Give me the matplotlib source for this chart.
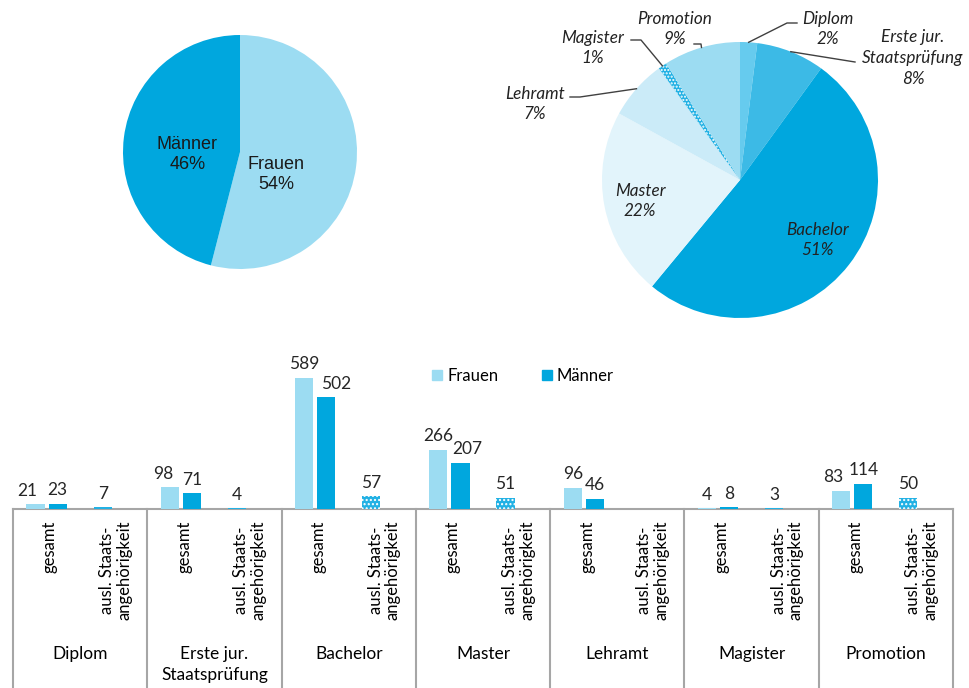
import numpy as np
import matplotlib.pyplot as plt
from matplotlib.patches import Patch

plt.rcParams['font.family'] = ['Lato', 'DejaVu Sans']

# data
degrees = ['Diplom', 'Erste jur.\nStaatsprüfung', 'Bachelor', 'Master', 'Lehramt', 'Magister', 'Promotion']
frauen_gesamt = [21, 98, 589, 266, 96, 4, 83]
maenner_gesamt = [23, 71, 502, 207, 46, 8, 114]
auslaender = [7, 4, 57, 51, None, 3, 50]
sub_labels = ['gesamt', 'ausl. Staats-\nangehörigkeit']

sex_labels = ['Frauen', 'Männer']
sex_pct = [54, 46]
deg_labels = ['Diplom', 'Erste jur.\nStaatsprüfung', 'Bachelor', 'Master', 'Lehramt', 'Magister', 'Promotion']
deg_pct = [2, 8, 51, 22, 7, 1, 9]

c_fr = '#9CDCF2'
c_ma = '#00A7DE'
c_ausl = '#22B1E4'
deg_colors = ['#66CBEE', '#3CBAE6', '#00A7DE', '#E2F4FB', '#CBEBF8', c_ausl, '#9CDCF2']

W, H = 969, 688
fig = plt.figure(figsize=(W / 100, H / 100), dpi=100)


def box(x0, y0, x1, y1):
    return [x0 / W, 1 - y1 / H, (x1 - x0) / W, (y1 - y0) / H]


# left pie: Frauen / Maenner
ax1 = fig.add_axes(box(123, 35, 357, 269))
ax1.pie(sex_pct, colors=[c_fr, c_ma], startangle=90, counterclock=False,
        wedgeprops=dict(linewidth=0))
ax1.set_xlim(-1, 1)
ax1.set_ylim(-1, 1)
lpos = [(0.31, -0.19), (-0.45, -0.02)]
for lab, p, (x, y) in zip(sex_labels, sex_pct, lpos):
    ax1.text(x, y, '%s\n%d%%' % (lab, p), ha='center', va='center', fontsize=13,
             family='Liberation Sans', color='#1a1a1a', linespacing=1.2)

# right pie: Abschlussarten
ax2 = fig.add_axes(box(602, 42, 878, 318))
wedges, _ = ax2.pie(deg_pct, colors=deg_colors, startangle=90, counterclock=False,
                    wedgeprops=dict(linewidth=0))
wedges[5].set_hatch('.....')
wedges[5].set_edgecolor('white')
ax2.set_xlim(-1, 1)
ax2.set_ylim(-1, 1)


def p2d(px, py):
    return ((px - 740) / 138, (180 - py) / 138)


# text centre (px), elbow points (px); None = label inside
lab_layout = [
    ((828, 29), [(787, 23), (797, 23)]),
    ((913, 58), [(855, 62)]),
    ((818, 240), None),
    ((640, 201), None),
    ((535, 104), [(580, 97), (570, 97)]),
    ((593, 48), [(641, 40), (631, 40)]),
    ((675, 29), [(701, 44), (694, 44)]),
]
for w, lab, p, (tc, elbow) in zip(wedges, deg_labels, deg_pct, lab_layout):
    tx, ty = p2d(*tc)
    ax2.text(tx, ty, '%s\n%d%%' % (lab, p), ha='center', va='center', fontsize=12.3,
             style='italic', color='#222222', linespacing=1.35, clip_on=False)
    if elbow:
        a = np.deg2rad((w.theta1 + w.theta2) / 2)
        xs = [np.cos(a)] + [p2d(*e)[0] for e in elbow]
        ys = [np.sin(a)] + [p2d(*e)[1] for e in elbow]
        ax2.plot(xs, ys, color='#404040', lw=1, clip_on=False)

# bar chart
ax3 = fig.add_axes(box(13, 340, 953, 509))
n = len(degrees)
x_ges = np.arange(n) * 2
x_aus = np.arange(n) * 2 + 1
off, bw = 0.164, 0.27
ax3.bar(x_ges - off, frauen_gesamt, bw, color=c_fr, linewidth=0, zorder=3)
ax3.bar(x_ges + off, maenner_gesamt, bw, color=c_ma, linewidth=0, zorder=3)

# label nudges (px) where neighbouring labels would touch
dx_fr = [-8, -7, 0, 0, 0, 0, -8]
dx_ma = [0, 0, 10, 7, 0, 0, 0]
fs_val = 12.5


def vlabel(x, v, dx=0):
    ax3.annotate(str(v), (x, v), xytext=(dx * 0.72, 4), textcoords='offset points',
                 ha='center', va='bottom', fontsize=fs_val, color='#262626')


for i, v in enumerate(auslaender):
    if v is None:
        continue
    ax3.bar(x_aus[i] - off, v, bw, color=c_ausl, edgecolor='white',
            hatch='....' if v > 20 else None, linewidth=0, zorder=3)
    vlabel(x_aus[i] - off, v)
for i in range(n):
    vlabel(x_ges[i] - off, frauen_gesamt[i], dx_fr[i])
    vlabel(x_ges[i] + off, maenner_gesamt[i], dx_ma[i])

ax3.set_xlim(-0.5, 2 * n - 0.5)
ax3.set_ylim(0, 760)
for s in ['top', 'right', 'left']:
    ax3.spines[s].set_visible(False)
ax3.spines['bottom'].set_color('#A6A6A6')
ax3.spines['bottom'].set_linewidth(1.5)
ax3.set_xticks([])
ax3.set_yticks([])
ax3.patch.set_alpha(0)

trans = ax3.get_xaxis_transform()


def ypx(py):
    return (509 - py) / 169


for k in range(n + 1):
    ax3.plot([2 * k - 0.5] * 2, [0, ypx(700)], transform=trans, clip_on=False,
             color='#A6A6A6', lw=1.5)
for i in range(n):
    ax3.text(x_ges[i] + 0.05, ypx(521), sub_labels[0], transform=trans, rotation=90,
             ha='center', va='top', fontsize=12)
    ax3.text(x_aus[i] + 0.03, ypx(521), sub_labels[1], transform=trans, rotation=90,
             ha='center', va='top', fontsize=12, multialignment='center', linespacing=1.1)
    ax3.text(x_ges[i] + 0.5, ypx(646), degrees[i], transform=trans, ha='center', va='top',
             fontsize=12.5, linespacing=1.35)

fig.legend([Patch(color=c_fr), Patch(color=c_ma)], sex_labels, loc='center',
           bbox_to_anchor=(523 / W, 1 - 376 / H), ncol=2, frameon=False, fontsize=12,
           handlelength=0.6, handleheight=0.6, handletextpad=0.3, columnspacing=2.6)

fig.savefig('out.png', dpi=100)
